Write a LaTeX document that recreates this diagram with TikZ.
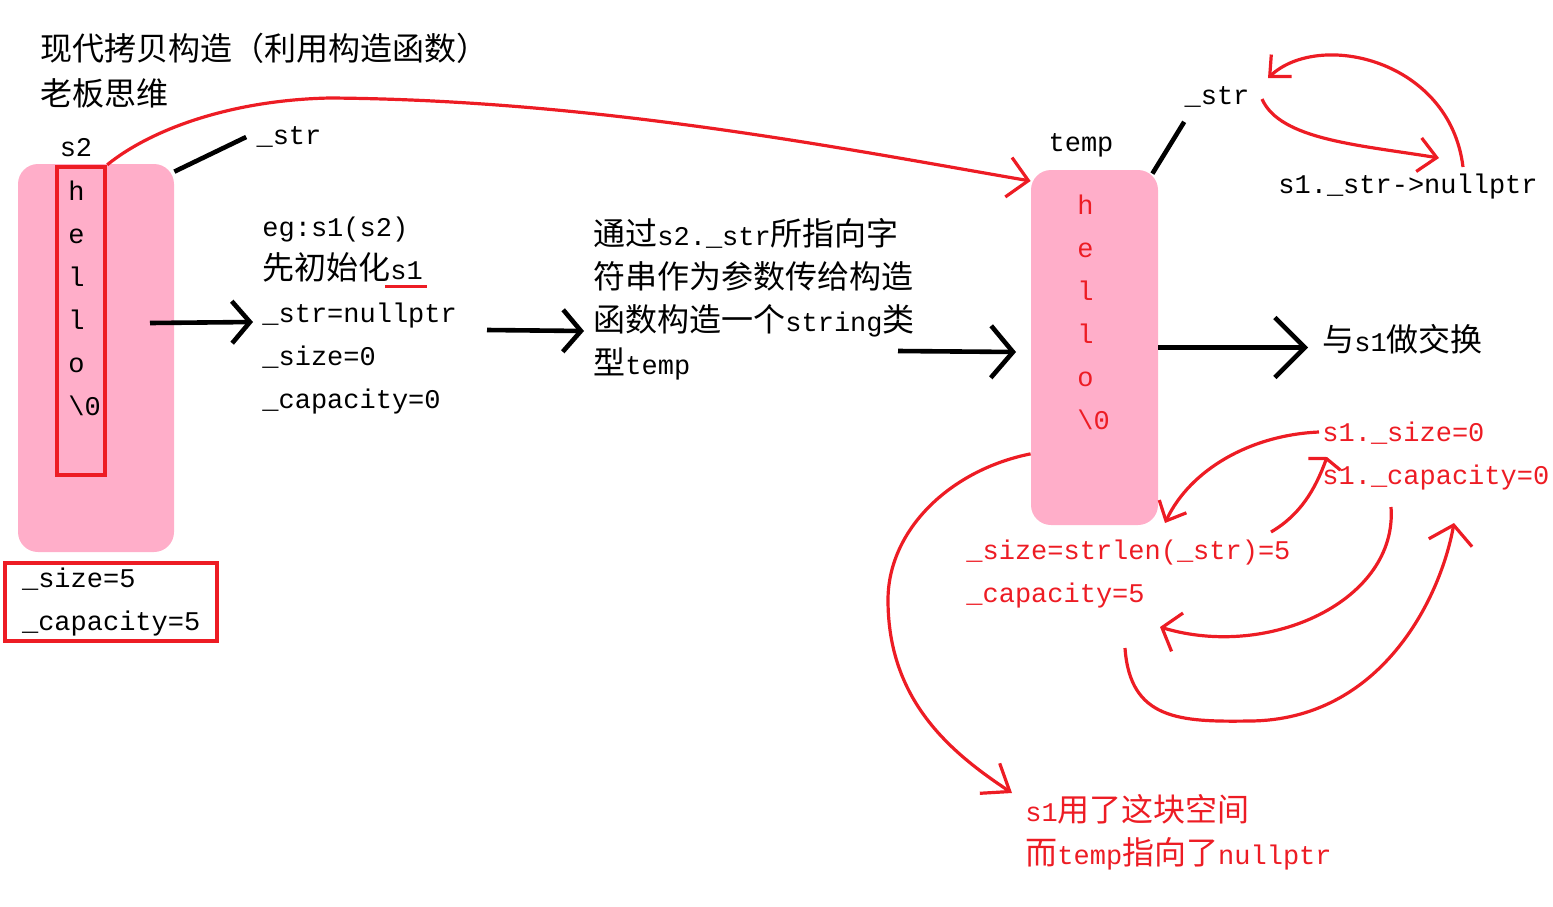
\documentclass[tikz,border=0pt]{standalone}
\usepackage{fontspec}
\setmainfont{Liberation Mono}
\newfontfamily\cjk{Noto Sans CJK SC}
\usetikzlibrary{arrows.meta}
\definecolor{penred}{RGB}{237,28,36}
\definecolor{mempink}{RGB}{255,174,201}
\newcommand\latin{\fontsize{13.5}{21.5}\selectfont}
\newcommand\zh[1]{{\cjk\fontsize{16}{21.5}\selectfont #1}}
\newcommand\redul[1]{\makebox[0pt][l]{\kern-2.5pt\textcolor{penred}{\rule[-4pt]{21pt}{1.5pt}}}#1}

\begin{document}
\begin{tikzpicture}[
  x=0.5pt, y=-0.5pt,
  mem/.style={fill=mempink, rounded corners=10pt, inner sep=0pt},
  txt/.style={inner sep=0pt, font=\latin, align=left},
  ptr/.style={line width=2.3pt},
  bigarrow/.style={line width=2.3pt, -{Straight Barb[length=9pt,width=21pt]}},
  redpen/.style={draw=penred, line width=1.6pt, -{Straight Barb[length=9pt,width=17pt]}},
]
  \useasboundingbox (0,0) rectangle (1553,906);

  % heading
  \node[txt, anchor=west] (title) at (40,48) {\zh{现代拷贝构造（利用构造函数）}};
  \node[txt, anchor=west] (boss) at (40,93) {\zh{老板思维}};

  % object s2
  \node[txt] (s2lbl) at (76,148) {s2};
  \node[mem, minimum width=78pt, minimum height=194pt] (s2box) at (96,358) {};
  \node[draw=penred, line width=2.2pt, minimum width=24pt, minimum height=154pt, inner sep=0pt] (s2str) at (81,321) {};
  \node[txt, anchor=north west] (s2chars) at (68,181) {h\\e\\l\\l\\o\\\textbackslash0};
  \node[txt, draw=penred, line width=2.2pt, minimum width=106pt, minimum height=39pt, anchor=north west] (s2size) at (3,561) {\_size=5\\\_capacity=5};
  \node[txt] (strA) at (289,137) {\_str};
  \draw[ptr] ([yshift=-4pt]s2box.north east) -- ([xshift=-5pt]strA.west);

  % step 1: empty s1
  \node[txt, anchor=north west] (init) at (262,217) {eg:s1(s2)\\\zh{先初始化}\redul{s1}\\\_str=nullptr\\\_size=0\\\_capacity=0};
  \coordinate (a1s) at (150,323);
  \coordinate (a1e) at (253,322);
  \draw[bigarrow] (a1s) -- (a1e);

  % step 2: build temp
  \node[txt, anchor=north west] (ctor) at (593,218) {\zh{通过}s2.\_str\zh{所指向字}\\\zh{符串作为参数传给构造}\\\zh{函数构造一个}string\zh{类}\\\zh{型}temp};
  \coordinate (a2s) at (487,330);
  \coordinate (a2e) at (584,331);
  \draw[bigarrow] (a2s) -- (a2e);
  \coordinate (a3s) at (898,351);
  \coordinate (a3e) at (1016,352);
  \draw[bigarrow, -{Straight Barb[length=11pt,width=26pt]}] (a3s) -- (a3e);

  % object temp
  \node[txt] (templbl) at (1081,145) {temp};
  \node[mem, minimum width=63.5pt, minimum height=177.5pt] (tempbox) at (1094.5,347.5) {};
  \node[txt, anchor=north west, text=penred] (tempchars) at (1077,195) {h\\e\\l\\l\\o\\\textbackslash0};
  \node[txt] (strB) at (1217,97) {\_str};
  \draw[ptr] ([xshift=-3pt,yshift=-2pt]tempbox.north east) -- ([yshift=-7pt]strB.south west);

  % swap
  \node[txt, anchor=west] (swap) at (1322,339) {\zh{与}s1\zh{做交换}};
  \coordinate (a4e) at (1308,347.5);
  \draw[bigarrow, -{Straight Barb[length=15pt,width=30pt]}] (tempbox.east) -- (a4e);
  \node[txt, anchor=west] (nul) at (1278,187) {s1.\_str->nullptr};

  % red notes
  \node[txt, anchor=north west, text=penred] (tmpsize) at (966,540) {\_size=strlen(\_str)=5\\\_capacity=5};
  \node[txt, anchor=north west, text=penred] (s1size) at (1322,422) {s1.\_size=0\\s1.\_capacity=0};
  \node[txt, anchor=north west, text=penred] (s1use) at (1025,794) {s1\zh{用了这块空间}\\\zh{而}temp\zh{指向了}nullptr};

  % s2._str -> temp
  \draw[redpen, -{Straight Barb[length=10pt,width=20pt]}] (s2str.north east) .. controls (150,130) and (230,100) .. (330,98)
    .. controls (600,100) and (850,150) .. (tempbox.111);

  % swapping _str
  \coordinate (c1s) at (1262,99);
  \coordinate (c1e) at (1439,158);
  \coordinate (c2s) at (1463,167);
  \coordinate (c2e) at (1268,78);
  \draw[redpen] (c1s) .. controls (1280,140) and (1360,145) .. (c1e);
  \draw[redpen, -{Straight Barb[length=8pt,width=15pt]}] (c2s) .. controls (1450,60) and (1320,30) .. (c2e);

  % swapping _size and _capacity
  \coordinate (sa) at (1319,432);
  \coordinate (ta) at (1165,523);
  \coordinate (sb) at (1271,532);
  \coordinate (tb) at (1327,457);
  \coordinate (sc) at (1391,507);
  \coordinate (tc) at (1160,627);
  \coordinate (sd) at (1125,648);
  \coordinate (td) at (1454,523);
  \draw[redpen, -{Straight Barb[length=8pt,width=15pt]}] (sa) .. controls (1250,435) and (1190,470) .. (ta);
  \draw[redpen, -{Straight Barb[length=3pt,width=17pt]}] (sb) .. controls (1300,515) and (1315,490) .. (tb);
  \draw[redpen, -{Straight Barb[length=8pt,width=20pt]}] (sc) .. controls (1398,600) and (1270,660) .. (tc);
  \draw[redpen, -{Straight Barb[length=9pt,width=22pt]}] (sd) .. controls (1130,720) and (1180,722) .. (1250,721)
    .. controls (1380,720) and (1440,600) .. (td);

  % temp ends up with s1's empty space
  \coordinate (te) at (1012,793);
  \draw[redpen, -{Straight Barb[length=12pt,width=18pt]}] (tempbox.239) .. controls (950,470) and (888,530) .. (888,600)
    .. controls (888,700) and (950,752) .. (te);
\end{tikzpicture}
\end{document}
